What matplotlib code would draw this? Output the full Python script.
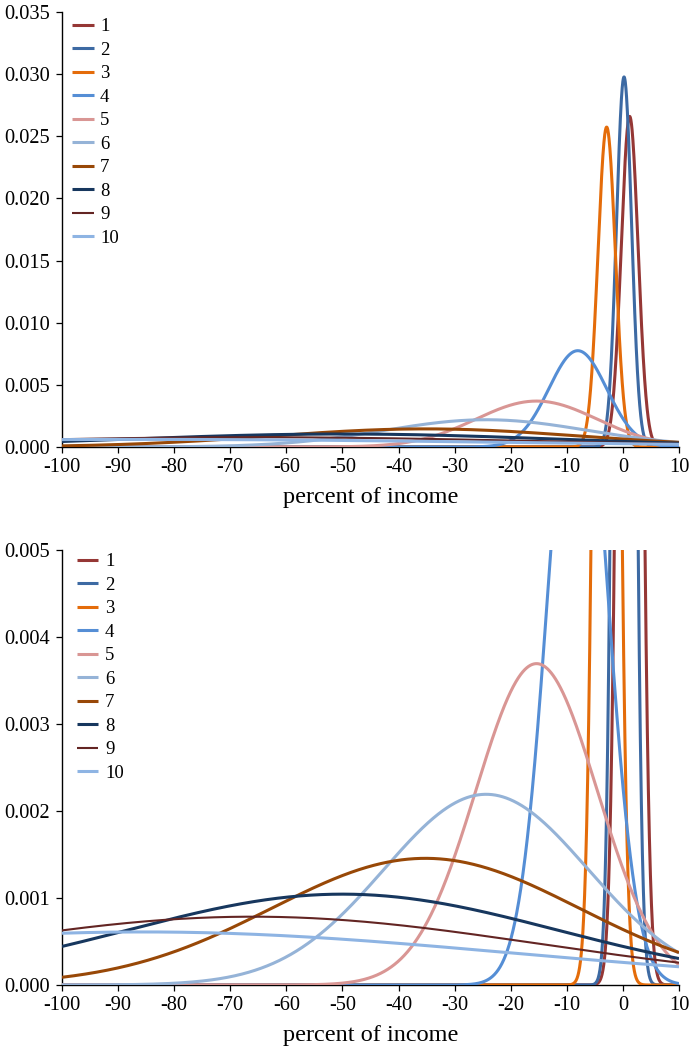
import numpy as np
import matplotlib
matplotlib.use("Agg")
import matplotlib.pyplot as plt

# Income-change distributions by group (normal densities, each group weighted 1/10)
groups = ["1", "2", "3", "4", "5", "6", "7", "8", "9", "10"]
means = [1.2, 0.2, -2.9, -8.05, -15.4, -24.4, -35.2, -50.0, -66.0, -85.5]
sds = [1.5, 1.34, 1.55, 5.15, 10.8, 18.2, 27.4, 38.2, 50.8, 65.4]
shares = [0.1] * 10
colors = ["#953735", "#3D6AA3", "#E46C0A", "#558ED5", "#D99694",
          "#95B3D7", "#984807", "#17375E", "#632523", "#8EB4E3"]
widths = [2.2, 2.2, 2.2, 2.2, 2.2, 2.2, 2.2, 2.2, 1.5, 2.2]

x_ticks = list(range(-100, 11, 10))
top_yticks = [0.000, 0.005, 0.010, 0.015, 0.020, 0.025, 0.030, 0.035]
bottom_yticks = [0.000, 0.001, 0.002, 0.003, 0.004, 0.005]

plt.rcParams["font.family"] = ["Liberation Serif", "DejaVu Serif"]

x = np.linspace(-100, 10, 3000)


def density(mu, sd, share):
    return share * np.exp(-0.5 * ((x - mu) / sd) ** 2) / (sd * np.sqrt(2 * np.pi))


fig = plt.figure(figsize=(6.89, 10.49), dpi=100)
ax_top = fig.add_axes([0.090, 0.5739, 0.8955, 0.4147])
ax_bot = fig.add_axes([0.090, 0.0610, 0.8955, 0.4147])


def draw(ax, yticks, ymax, legend_x, legend_y):
    for g, mu, sd, sh, c, lw in zip(groups, means, sds, shares, colors, widths):
        ax.plot(x, density(mu, sd, sh), color=c, lw=lw, label=g, zorder=3,
                solid_capstyle="butt")
    ax.set_xlim(-100, 10)
    ax.set_ylim(0, ymax)
    ax.set_xticks(x_ticks)
    ax.set_xticklabels([str(t) for t in x_ticks])
    ax.set_yticks(yticks)
    ax.set_yticklabels([f"{t:.3f}" for t in yticks])
    for s in ("top", "right"):
        ax.spines[s].set_visible(False)
    for s in ("left", "bottom"):
        ax.spines[s].set_linewidth(1.0)
        ax.spines[s].set_color("black")
    ax.tick_params(axis="both", direction="out", length=4, width=0.9,
                   labelsize=14.7, colors="black", pad=4)
    ax.tick_params(axis="y", pad=5)
    ax.set_xlabel("percent of income", fontsize=17.5, labelpad=7)
    ax.legend(loc="upper left", bbox_to_anchor=(legend_x, legend_y), frameon=False,
              fontsize=13.5, handlelength=1.15, handletextpad=0.35,
              labelspacing=0.34, borderaxespad=0.0)


draw(ax_top, top_yticks, 0.035, 0.004, 1.003)
draw(ax_bot, bottom_yticks, 0.005, 0.012, 1.01)

fig.savefig("out.png", dpi=100)
